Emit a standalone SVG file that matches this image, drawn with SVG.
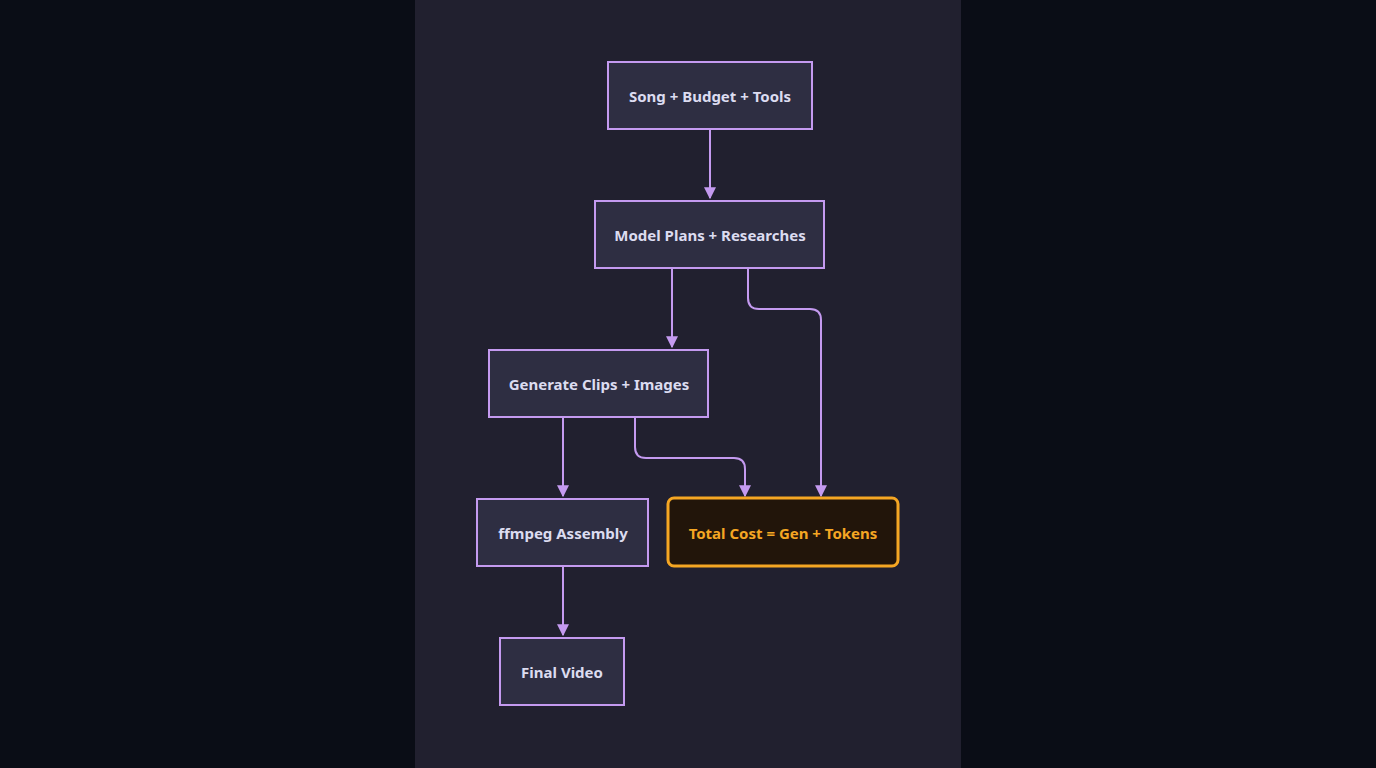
<svg xmlns="http://www.w3.org/2000/svg" width="1376" height="768" viewBox="0 0 1376 768">
<style>
.n rect{fill:#2e2e42;stroke:#c49af0;stroke-width:2}
.n text{fill:#dcdcf0;font-family:"Source Sans Pro","Noto Sans","Liberation Sans",sans-serif;font-weight:bold;font-size:15px;text-anchor:middle;dominant-baseline:central}
.e path{fill:none;stroke:#c49af0;stroke-width:2}
</style>
<defs><marker id="a" viewBox="0 0 10 10" refX="9" refY="5" markerWidth="6" markerHeight="6" orient="auto"><path d="M0,0L10,5L0,10z" fill="#c49af0"/></marker></defs>
<rect width="1376" height="768" fill="#0a0d16"/>
<rect x="415" y="0" width="546" height="768" fill="#21202f"/>
<g class="e">
<path d="M710,130V198" marker-end="url(#a)"/>
<path d="M672,269V347" marker-end="url(#a)"/>
<path d="M748,269V298Q748,309 759,309H810Q821,309 821,320V496" marker-end="url(#a)"/>
<path d="M563,418V496" marker-end="url(#a)"/>
<path d="M635,418V447Q635,458 646,458H734Q745,458 745,469V496" marker-end="url(#a)"/>
<path d="M563,567V635" marker-end="url(#a)"/>
</g>
<g id="n1" class="n"><rect x="608" y="62" width="204" height="67"/><text x="710" y="96">Song + Budget + Tools</text></g>
<g id="n2" class="n"><rect x="595" y="201" width="229" height="67"/><text x="710" y="235">Model Plans + Researches</text></g>
<g id="n3" class="n"><rect x="489" y="350" width="219" height="67"/><text x="599" y="384">Generate Clips + Images</text></g>
<g id="n4" class="n"><rect x="477" y="499" width="171" height="67"/><text x="563" y="533">ffmpeg Assembly</text></g>
<g id="n5" class="n"><rect x="668" y="498" width="230" height="68" rx="6" style="fill:#22150a;stroke:#f5a623;stroke-width:3"/><text x="783" y="533" style="fill:#f5a623">Total Cost = Gen + Tokens</text></g>
<g id="n6" class="n"><rect x="500" y="638" width="124" height="67"/><text x="562" y="672">Final Video</text></g>
</svg>
